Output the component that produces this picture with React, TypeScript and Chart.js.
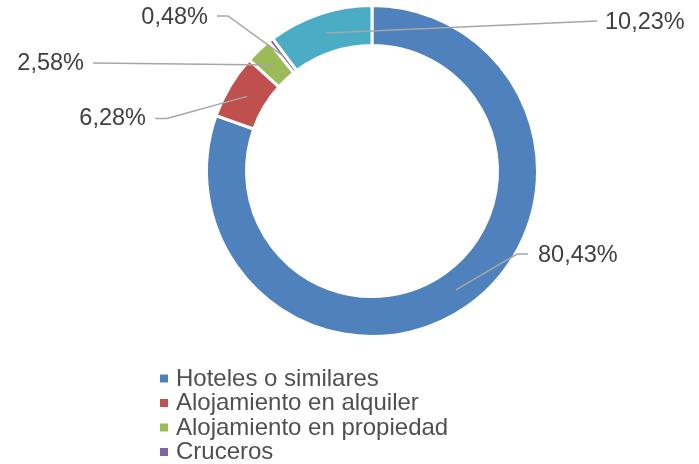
import React, { useEffect, useRef } from "react";
import { Chart, registerables } from "chart.js";

Chart.register(...registerables);

const CATEGORIES = [
  "Hoteles o similares",
  "Alojamiento en alquiler",
  "Alojamiento en propiedad",
  "Cruceros",
  "Otros",
];
const SHARES = [80.43, 6.28, 2.58, 0.48, 10.23];
const VALUE_LABELS = ["80,43%", "6,28%", "2,58%", "0,48%", "10,23%"];
const COLORS = ["#4F81BD", "#C0504D", "#9BBB59", "#8064A2", "#4BACC6"];

const FONT = '"Liberation Sans", Arial, sans-serif';

// Leader-line / label placement (style config, not data)
const LABEL_LAYOUT = [
  { elbow: [517, 254], end: [528, 254], tx: 538, ty: 255.5, align: "left" },
  { elbow: [167, 118.5], end: [155, 118.5], tx: 146, ty: 119, align: "right" },
  { elbow: null, end: [93, 63], tx: 84, ty: 64, align: "right" },
  { elbow: [228, 16], end: [217, 16], tx: 208, ty: 17.5, align: "right" },
  { elbow: null, end: [597, 21], tx: 605, ty: 23, align: "left" },
];

const labelPlugin = {
  id: "leaderLabels",
  afterDraw(chart: any) {
    const ctx = chart.ctx;
    const meta = chart.getDatasetMeta(0);
    ctx.save();
    meta.data.forEach((arc: any, i: number) => {
      const L = LABEL_LAYOUT[i];
      if (!L) return;
      const mid = (arc.startAngle + arc.endAngle) / 2;
      const r = (arc.innerRadius + arc.outerRadius) / 2;
      const sx = arc.x + Math.cos(mid) * r;
      const sy = arc.y + Math.sin(mid) * r;
      ctx.strokeStyle = "#A6A6A6";
      ctx.lineWidth = 1.5;
      ctx.beginPath();
      ctx.moveTo(sx, sy);
      if (L.elbow) ctx.lineTo(L.elbow[0], L.elbow[1]);
      ctx.lineTo(L.end[0], L.end[1]);
      ctx.stroke();
      ctx.fillStyle = "#404040";
      ctx.font = `23.5px ${FONT}`;
      ctx.textAlign = L.align;
      ctx.textBaseline = "middle";
      ctx.fillText(VALUE_LABELS[i], L.tx, L.ty);
    });
    // Legend (vertical list)
    ctx.font = `24px ${FONT}`;
    ctx.textAlign = "left";
    ctx.textBaseline = "middle";
    CATEGORIES.forEach((name, i) => {
      const y = 378.5 + i * 24.5;
      ctx.fillStyle = COLORS[i];
      ctx.fillRect(160, y - 4, 8, 8);
      ctx.fillStyle = "#505050";
      ctx.fillText(name, 176, y + 0.5);
    });
    ctx.restore();
  },
};

export default function App() {
  const ref = useRef<HTMLCanvasElement | null>(null);
  useEffect(() => {
    if (!ref.current) return;
    const chart = new Chart(ref.current, {
      type: "doughnut",
      data: {
        labels: CATEGORIES,
        datasets: [
          {
            data: SHARES,
            backgroundColor: COLORS,
            borderColor: "#FFFFFF",
            borderWidth: 3,
          },
        ],
      },
      options: {
        responsive: false,
        animation: false,
        cutout: 125.5,
        layout: { padding: { left: 205, right: 160, top: 4, bottom: 126 } },
        plugins: {
          legend: { display: false },
          tooltip: { enabled: false },
          title: { display: false },
        },
        events: [],
      },
      plugins: [labelPlugin],
    });
    return () => chart.destroy();
  }, []);
  return (
    <div style={{ position: "fixed", left: 0, top: 0, width: 699, height: 464, background: "#fff" }}>
      <canvas ref={ref} width={699} height={464} />
    </div>
  );
}
